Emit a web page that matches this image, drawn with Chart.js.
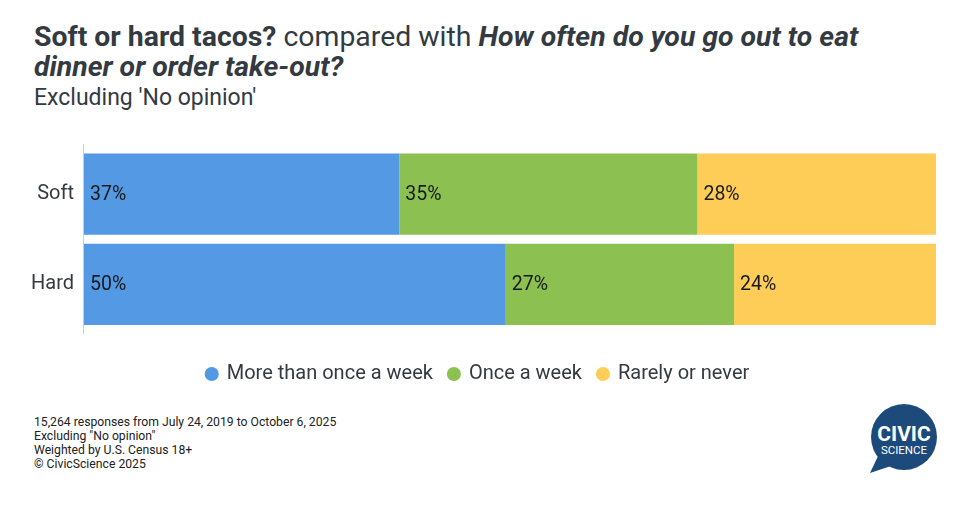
<!DOCTYPE html>
<html>
<head>
<meta charset="utf-8">
<script src="https://cdn.jsdelivr.net/npm/chart.js@4.4.1/dist/chart.umd.min.js"></script>
<style>
  body { margin: 0; width: 966px; height: 506px; background: #fff; font-family: Roboto, sans-serif; color: #333a41; position: relative; overflow: hidden; }
  #title { position: absolute; left: 34px; top: 22px; font-size: 28.4px; line-height: 30px; white-space: nowrap; }
  #subtitle { position: absolute; left: 34px; top: 85px; font-size: 23px; line-height: 26px; }
  #chartBox { position: absolute; left: 0; top: 127px; width: 966px; height: 267px; }
  #notes { position: absolute; left: 34px; top: 415px; font-size: 12.2px; line-height: 14px; color: #222; }
  #logo { position: absolute; left: 864px; top: 402px; }
</style>
</head>
<body>
<div id="title"><b>Soft or hard tacos?</b> compared with <b><i>How often do you go out to eat<br>dinner or order take-out?</i></b></div>
<div id="subtitle">Excluding 'No opinion'</div>
<div id="chartBox"><canvas id="chart"></canvas></div>
<div id="notes">
  15,264 responses from July 24, 2019 to October 6, 2025<br>
  Excluding "No opinion"<br>
  Weighted by U.S. Census 18+<br>
  © CivicScience 2025
</div>
<svg id="logo" width="80" height="76" viewBox="0 0 80 76">
  <circle cx="40" cy="35" r="33" fill="#1c4a7b"/>
  <path d="M15 52 L6 71 L30 63 Z" fill="#1c4a7b"/>
  <text x="40" y="39" text-anchor="middle" font-family="Roboto" font-weight="bold" font-size="21" fill="#fff">CIVIC</text>
  <text x="40" y="52" text-anchor="middle" font-family="Roboto" font-size="11.5" fill="#fff">SCIENCE</text>
</svg>
<script>
// Chart data
const categories = ['Soft', 'Hard'];
const seriesNames = ['More than once a week', 'Once a week', 'Rarely or never'];
const moreThanOnce = [37, 49.5];
const onceAWeek = [35, 26.8];
const rarelyNever = [28, 23.7];
const colors = ['#5499e3', '#8cc152', '#fecd57'];

// Percent labels at the left edge of each segment
const segmentLabels = {
    id: 'segmentLabels',
    afterDatasetsDraw(chart) {
        const c = chart.ctx;
        c.save();
        c.font = '19.5px Roboto';
        c.fillStyle = '#1a1a1a';
        c.textBaseline = 'middle';
        c.textAlign = 'left';
        chart.data.datasets.forEach((ds, i) => {
            chart.getDatasetMeta(i).data.forEach((bar, j) => {
                c.fillText(Math.round(ds.data[j]) + '%', bar.base + 6, bar.y + 1);
            });
        });
        c.restore();
    }
};

// Left axis line, a little longer than the plot area like the original
const axisLine = {
    id: 'axisLine',
    beforeDatasetsDraw(chart) {
        const a = chart.chartArea;
        const c = chart.ctx;
        c.save();
        c.strokeStyle = '#cccccc';
        c.lineWidth = 1;
        c.beginPath();
        c.moveTo(a.left - 0.5, a.top - 4.5);
        c.lineTo(a.left - 0.5, a.bottom + 4.5);
        c.stroke();
        c.restore();
    }
};

const ctx = document.getElementById('chart').getContext('2d');
new Chart(ctx, {
    type: 'bar',
    data: {
        labels: categories,
        datasets: [moreThanOnce, onceAWeek, rarelyNever].map((d, i) => ({
            label: seriesNames[i],
            data: d,
            backgroundColor: colors[i],
            borderWidth: 0,
            categoryPercentage: 1,
            barPercentage: 0.9
        }))
    },
    options: {
        indexAxis: 'y',
        responsive: true,
        maintainAspectRatio: false,
        animation: false,
        layout: { padding: { left: 20, right: 30, top: 0, bottom: 0 } },
        scales: {
            x: {
                stacked: true, min: 0, max: 100,
                grid: { display: false, drawTicks: false },
                border: { display: false },
                ticks: { display: false },
                afterFit(scale) { scale.height = 18.5; }
            },
            y: {
                stacked: true,
                grid: { display: false, drawTicks: false },
                border: { display: false },
                ticks: { padding: 10, color: '#333a41', font: { family: 'Roboto', size: 20 } },
                afterFit(scale) { scale.width = 64; }
            }
        },
        plugins: {
            tooltip: { enabled: false },
            legend: {
                position: 'bottom',
                labels: {
                    usePointStyle: true,
                    pointStyle: 'circle',
                    boxWidth: 10,
                    boxHeight: 10,
                    padding: 16,
                    color: '#333a41',
                    font: { family: 'Roboto', size: 20 }
                }
            }
        }
    },
    plugins: [segmentLabels, axisLine]
});
</script>
</body>
</html>
